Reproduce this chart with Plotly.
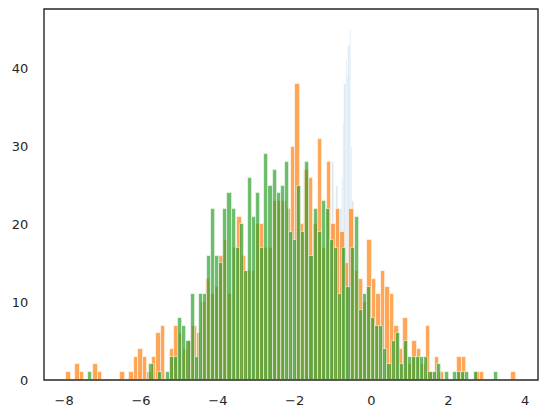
import plotly.graph_objects as go

# orange histogram: 100 equal bins starting at -7.94
orange_start = -7.94
orange_bin = 0.1169
orange_counts = [
    1, 0, 2, 1, 0, 0, 2, 1, 0, 0,
    0, 0, 1, 0, 1, 3, 4, 3, 1, 3,
    6, 7, 0, 4, 7, 6, 4, 5, 7, 6,
    10, 13, 11, 12, 16, 18, 11, 17, 21, 16,
    14, 14, 20, 20, 17, 17, 23, 23, 23, 22,
    30, 38, 20, 27, 26, 20, 31, 17, 28, 20,
    22, 19, 15, 22, 14, 13, 10, 18, 13, 11,
    14, 12, 11, 7, 4, 8, 2, 5, 4, 2,
    7, 1, 3, 1, 0, 0, 0, 3, 3, 0,
    0, 1, 1, 0, 0, 0, 0, 0, 0, 1,
]

# green histogram: 100 equal bins starting at -7.381
green_start = -7.381
green_bin = 0.1068
green_counts = [
    1, 0, 0, 0, 0, 0, 0, 0, 0, 0,
    0, 0, 0, 0, 0, 2, 0, 1, 0, 1,
    3, 3, 8, 7, 5, 11, 3, 11, 11, 16,
    22, 16, 15, 22, 24, 22, 17, 20, 14, 26,
    21, 24, 17, 29, 25, 27, 24, 25, 28, 19,
    18, 25, 19, 28, 16, 22, 19, 23, 22, 18,
    17, 11, 17, 12, 17, 21, 9, 11, 12, 8,
    7, 7, 4, 2, 5, 6, 2, 5, 3, 3,
    3, 3, 3, 1, 1, 2, 0, 1, 0, 1,
    1, 1, 1, 0, 1, 0, 0, 0, 0, 1,
]

# blue histogram: very narrow spike around -0.6
blue_start = -1.022
blue_bin = 0.0347
blue_counts = [28, 14, 18, 25, 21, 19, 22, 26, 33, 38, 41, 39, 43, 45, 30, 23, 14]

x_ticks = [-8, -6, -4, -2, 0, 2, 4]
x_ticktext = ["\u22128", "\u22126", "\u22124", "\u22122", "0", "2", "4"]
y_ticks = [0, 10, 20, 30, 40]

fig = go.Figure()

edge = dict(color="rgba(255,255,255,0.7)", width=0.8)

fig.add_trace(go.Bar(
    y=blue_counts, x0=blue_start + blue_bin / 2, dx=blue_bin,
    marker=dict(color="rgba(31,119,180,0.16)", line=dict(color="rgba(255,255,255,0.6)", width=0.5)),
))
fig.add_trace(go.Bar(
    y=orange_counts, x0=orange_start + orange_bin / 2, dx=orange_bin,
    marker=dict(color="rgba(255,127,14,0.7)", line=edge),
))
fig.add_trace(go.Bar(
    y=green_counts, x0=green_start + green_bin / 2, dx=green_bin,
    marker=dict(color="rgba(44,160,44,0.7)", line=edge),
))

# page body adds an 8px offset, so the figure is sized to sit the axes where the original does
fig.update_layout(
    width=540, height=410,
    margin=dict(l=36, r=10, t=1, b=38),
    barmode="overlay", bargap=0,
    showlegend=False,
    plot_bgcolor="white", paper_bgcolor="white",
    font=dict(family="DejaVu Sans", size=13, color="#262626"),
)
# frame around the axes
fig.add_shape(
    type="rect", xref="paper", yref="paper", x0=0, x1=1, y0=0, y1=1,
    line=dict(color="#262626", width=1.4), fillcolor="rgba(0,0,0,0)", layer="above",
)
fig.update_xaxes(
    range=[-8.525, 4.335], tickvals=x_ticks, ticktext=x_ticktext,
    showgrid=False, zeroline=False, showline=False,
    ticks="outside", ticklen=8, tickcolor="rgba(0,0,0,0)",
)
fig.update_yaxes(
    range=[0, 47.7], tickvals=y_ticks,
    showgrid=False, zeroline=False, showline=False,
    ticks="outside", ticklen=12, tickcolor="rgba(0,0,0,0)",
)

fig.write_html("out.html")
